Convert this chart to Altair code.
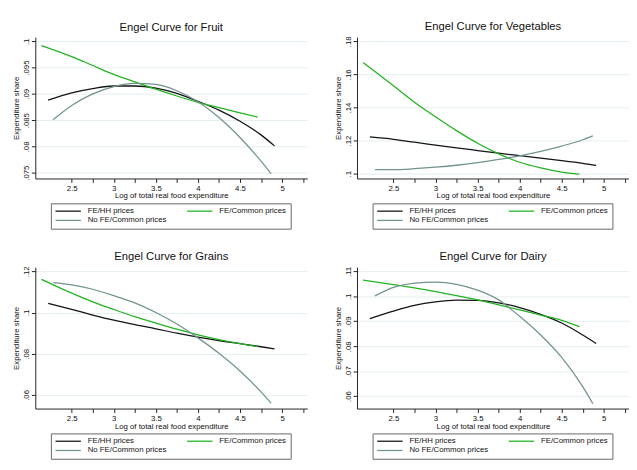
import altair as alt
import pandas as pd

# legend order (Stata legend: row 1 = FE/HH, FE/Common; row 2 = No FE/Common)
series = ["FE/HH prices", "No FE/Common prices", "FE/Common prices"]
series_colors = ["#141414", "#72948f", "#22b322"]

x_ticks = [2.5, 2.75, 3.0, 3.25, 3.5, 3.75, 4.0, 4.25, 4.5, 4.75, 5.0, 5.25]

# x positions read for each series (log of total real food expenditure)
hh_x = [2.22, 2.5, 2.75, 3.0, 3.25, 3.5, 3.75, 4.0, 4.25, 4.5, 4.75, 4.91]
common_x = [2.14, 2.5, 2.75, 3.0, 3.25, 3.5, 3.75, 4.0, 4.25, 4.5, 4.71]
nofe_x = [2.28, 2.5, 2.75, 3.0, 3.25, 3.5, 3.75, 4.0, 4.25, 4.5, 4.75, 4.87]

# Fruit
fruit_hh = [0.0888, 0.0902, 0.0910, 0.0915, 0.0915, 0.0911, 0.0901, 0.0886, 0.0869, 0.0848, 0.0822, 0.0801]
fruit_common = [0.0992, 0.0971, 0.0954, 0.0937, 0.0923, 0.0909, 0.0896, 0.0884, 0.0874, 0.0864, 0.0856]
fruit_nofe = [0.0851, 0.0878, 0.0900, 0.0914, 0.0920, 0.0918, 0.0906, 0.0885, 0.0855, 0.0817, 0.0772, 0.0748]
fruit_ticks = [0.075, 0.08, 0.085, 0.09, 0.095, 0.1]

# Vegetables
veg_hh = [0.1222, 0.1208, 0.1190, 0.1173, 0.1156, 0.1140, 0.1124, 0.1109, 0.1094, 0.1079, 0.1063, 0.1050]
veg_common = [0.1672, 0.1531, 0.1432, 0.1344, 0.1260, 0.1184, 0.1120, 0.1069, 0.1035, 0.1010, 0.0998]
veg_nofe = [0.1024, 0.1024, 0.1030, 0.1039, 0.1051, 0.1067, 0.1086, 0.1108, 0.1135, 0.1167, 0.1205, 0.1229]
veg_ticks = [0.1, 0.12, 0.14, 0.16, 0.18]

# Grains
grain_hh = [0.1044, 0.1015, 0.0988, 0.0963, 0.0941, 0.0921, 0.0900, 0.0881, 0.0864, 0.0849, 0.0834, 0.0824]
grain_common = [0.1161, 0.1094, 0.1052, 0.1015, 0.0980, 0.0949, 0.0919, 0.0892, 0.0869, 0.0849, 0.0834]
grain_nofe = [0.1145, 0.1134, 0.1113, 0.1082, 0.1047, 0.1000, 0.0944, 0.0877, 0.0802, 0.0716, 0.0615, 0.0560]
grain_ticks = [0.06, 0.08, 0.1, 0.12]

# Dairy
dairy_hh = [0.0911, 0.0941, 0.0964, 0.0978, 0.0985, 0.0984, 0.0974, 0.0955, 0.0928, 0.0893, 0.0845, 0.0811]
dairy_common = [0.1065, 0.1047, 0.1034, 0.1019, 0.1003, 0.0986, 0.0966, 0.0946, 0.0925, 0.0904, 0.0879]
dairy_nofe = [0.1002, 0.1036, 0.1053, 0.1057, 0.1048, 0.1025, 0.0986, 0.0920, 0.0845, 0.0755, 0.0638, 0.0570]
dairy_ticks = [0.06, 0.07, 0.08, 0.09, 0.1, 0.11]

FONT = "Liberation Sans"


def panel(name, hh, common, nofe, ydomain, yticks):
    rows = []
    for s, xs, ys in [("FE/HH prices", hh_x, hh), ("FE/Common prices", common_x, common),
                      ("No FE/Common prices", nofe_x, nofe)]:
        for xv, yv in zip(xs, ys):
            rows.append({"series": s, "x": xv, "y": yv})
    df = pd.DataFrame(rows)
    return alt.Chart(
        df,
        title=alt.TitleParams(
            f"Engel Curve for {name}", fontSize=11.5, font=FONT, fontWeight="normal",
            color="#111111", anchor="middle", frame="group", offset=4,
        ),
    ).mark_line(strokeWidth=1.3, interpolate="monotone").encode(
        x=alt.X(
            "x:Q",
            scale=alt.Scale(domain=[2.067, 5.30], nice=False, zero=False),
            axis=alt.Axis(
                values=x_ticks,
                labelExpr="datum.value % 0.5 == 0 ? format(datum.value, '~g') : ''",
                title="Log of total real food expenditure",
                grid=False, tickSize=4, labelPadding=2, titlePadding=0,
                labelFontSize=8, titleFontSize=8, labelOverlap=False,
            ),
        ),
        y=alt.Y(
            "y:Q",
            scale=alt.Scale(domain=ydomain, nice=False, zero=False),
            axis=alt.Axis(
                values=yticks,
                labelExpr="substring(format(datum.value, '.3~f'), 1)",
                labelAngle=270, title="Expenditure share",
                grid=True, gridColor="#e4eef0", tickSize=4, labelPadding=1,
                titlePadding=2, labelFontSize=8, titleFontSize=8,
            ),
        ),
        color=alt.Color(
            "series:N",
            scale=alt.Scale(domain=series, range=series_colors),
            legend=alt.Legend(
                title=None, orient="none", legendX=16, legendY=170.5, columns=2,
                symbolType="M-4,0H4", symbolSize=42.25, symbolStrokeWidth=1.3,
                symbolOffset=9.75, labelOffset=16,
                labelFontSize=8, columnPadding=18, rowPadding=1.5,
                padding=4, strokeColor="#666666", labelColor="#111111", labelFont=FONT,
            ),
        ),
    ).properties(width=279, height=145)


p1 = panel("Fruit", fruit_hh, fruit_common, fruit_nofe, [0.0739, 0.1008], fruit_ticks)
p2 = panel("Vegetables", veg_hh, veg_common, veg_nofe, [0.0971, 0.1825], veg_ticks)
p3 = panel("Grains", grain_hh, grain_common, grain_nofe, [0.0534, 0.1220], grain_ticks)
p4 = panel("Dairy", dairy_hh, dairy_common, dairy_nofe, [0.0550, 0.1117], dairy_ticks)

top = alt.hconcat(p1, p2, spacing=28).resolve_scale(color="independent")
bottom = alt.hconcat(p3, p4, spacing=28).resolve_scale(color="independent")

chart = alt.vconcat(top, bottom, spacing=22).resolve_scale(color="independent").properties(
    padding={"left": 5, "top": 7, "right": 0, "bottom": 0},
    background="white",
).configure_view(stroke=None).configure_axis(
    labelFont=FONT, titleFont=FONT, labelColor="#111111", titleColor="#111111",
    domainColor="#222222", tickColor="#222222", titleFontWeight="normal",
)

chart.save("out.html", embed_options={"renderer": "svg", "actions": False})
